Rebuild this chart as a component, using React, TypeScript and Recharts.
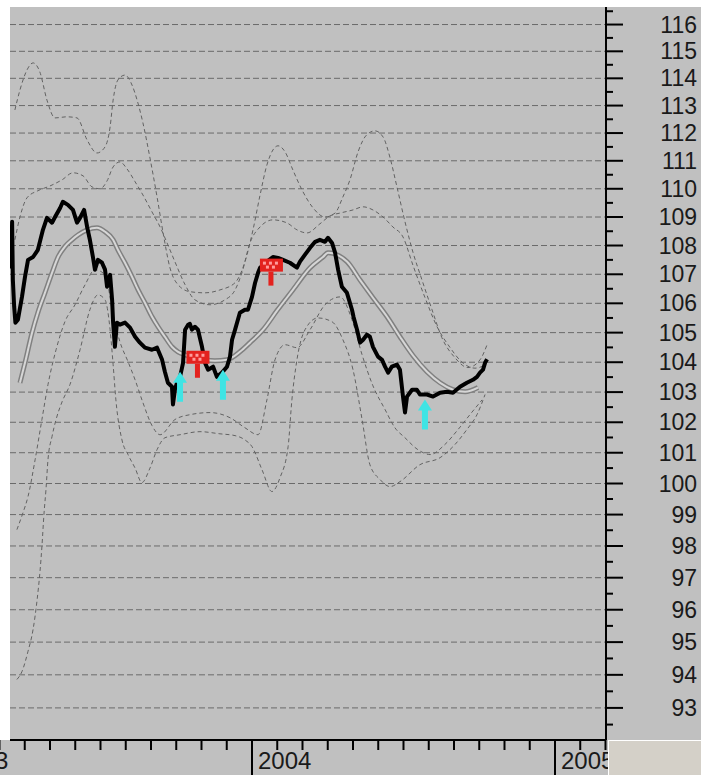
import { ComposedChart, Line, Scatter, XAxis, YAxis, CartesianGrid } from "recharts";

// x = months counted from Jan 2003 (12 = Jan 2004), y = price (log scale)
const price: [number, number][] = [
  [2.45, 107.2], [2.5, 108.83], [2.53, 106.8], [2.58, 105.9], [2.63, 105.34], [2.73, 105.44],
  [2.89, 106.22], [3.01, 106.91], [3.13, 107.5], [3.33, 107.6], [3.52, 107.85], [3.72, 108.55],
  [3.88, 108.97], [4.08, 108.8], [4.2, 109.0], [4.4, 109.32], [4.51, 109.54], [4.71, 109.43],
  [4.91, 109.25], [5.07, 108.8], [5.19, 108.97], [5.35, 109.25], [5.47, 108.65], [5.58, 108.2],
  [5.7, 107.6], [5.78, 107.16], [5.9, 107.5], [6.06, 107.4], [6.18, 107.16], [6.26, 106.57],
  [6.38, 106.98], [6.46, 106.12], [6.5, 105.34], [6.57, 104.52], [6.65, 105.34], [6.77, 105.27],
  [6.97, 105.34], [7.17, 105.17], [7.37, 104.86], [7.56, 104.66], [7.76, 104.49], [8.04, 104.42],
  [8.24, 104.49], [8.44, 104.08], [8.55, 103.68], [8.67, 103.31], [8.83, 103.18], [8.87, 102.59],
  [8.95, 103.1], [9.03, 103.31], [9.15, 103.51], [9.27, 103.98], [9.35, 105.1], [9.47, 105.27],
  [9.54, 105.3], [9.62, 105.1], [9.74, 105.2], [9.86, 105.1], [10.02, 104.52], [10.14, 103.98],
  [10.26, 103.75], [10.46, 103.85], [10.61, 103.51], [10.81, 103.65], [11.01, 103.85], [11.13, 104.19],
  [11.21, 104.76], [11.33, 105.1], [11.52, 105.68], [11.72, 105.78], [11.84, 105.78], [12.0, 106.22],
  [12.12, 106.7], [12.24, 107.05], [12.32, 107.23], [12.59, 107.44], [12.83, 107.6], [13.03, 107.57],
  [13.23, 107.5], [13.5, 107.4], [13.78, 107.23], [13.9, 107.44], [14.1, 107.68], [14.3, 107.92],
  [14.5, 108.13], [14.69, 108.2], [14.89, 108.13], [15.01, 108.27], [15.17, 108.09], [15.29, 107.75],
  [15.41, 107.16], [15.56, 106.57], [15.76, 106.36], [15.96, 105.78], [16.02, 105.54], [16.16, 105.1],
  [16.28, 104.66], [16.4, 104.76], [16.55, 104.93], [16.67, 104.86], [16.79, 104.52], [16.99, 104.19],
  [17.15, 104.08], [17.27, 103.85], [17.39, 103.65], [17.54, 103.85], [17.74, 103.92], [17.86, 103.75],
  [17.98, 102.85], [18.06, 102.32], [18.14, 102.85], [18.34, 103.08], [18.53, 103.08], [18.65, 102.92],
  [18.93, 102.92], [19.17, 102.85], [19.45, 102.98], [19.72, 103.01], [19.96, 102.98], [20.24, 103.18],
  [20.51, 103.31], [20.75, 103.41], [20.91, 103.51], [21.03, 103.65], [21.15, 103.75], [21.23, 103.98],
  [21.31, 104.1],
];

const cycle: [number, number][] = [
  [2.81, 103.31], [3.01, 103.98], [3.29, 105.0], [3.52, 105.68], [3.8, 106.36], [4.08, 107.05],
  [4.32, 107.6], [4.59, 107.96], [4.87, 108.2], [5.11, 108.37], [5.47, 108.55], [5.86, 108.62],
  [6.18, 108.48], [6.5, 108.2], [6.69, 107.85], [6.97, 107.4], [7.25, 106.91], [7.49, 106.46],
  [7.76, 106.02], [8.04, 105.54], [8.28, 105.2], [8.55, 104.86], [8.83, 104.52], [9.07, 104.35],
  [9.35, 104.25], [9.74, 104.15], [10.14, 104.08], [10.53, 104.05], [11.01, 104.08], [11.52, 104.35],
  [11.92, 104.66], [12.44, 105.1], [12.99, 105.75], [13.62, 106.46], [14.3, 107.23], [14.81, 107.6],
  [15.01, 107.75], [15.76, 107.44], [16.28, 106.8], [16.79, 106.19], [17.35, 105.54], [17.86, 104.86],
  [18.38, 104.22], [18.93, 103.68], [19.45, 103.31], [19.96, 103.08], [20.44, 103.01], [20.95, 103.15],
];

const upperOuter: [number, number][] = [
  [2.61, 112.84], [2.81, 113.57], [3.09, 114.31], [3.33, 114.57], [3.6, 114.23], [3.88, 113.2],
  [4.2, 112.55], [4.67, 112.59], [5.07, 112.55], [5.47, 111.75], [5.86, 111.28], [6.18, 111.5],
  [6.38, 112.22], [6.5, 113.2], [6.69, 113.94], [6.97, 114.12], [7.25, 113.75], [7.45, 113.2],
  [7.68, 112.37], [7.96, 111.1], [8.24, 109.71], [8.48, 108.44], [8.75, 107.23], [9.07, 106.64],
  [9.54, 106.4], [10.14, 106.36], [10.73, 106.46], [11.33, 106.71], [11.72, 107.43], [12.04, 108.55],
  [12.32, 109.78], [12.59, 110.85], [12.83, 111.39], [13.03, 111.54], [13.31, 111.32], [13.62, 110.67],
  [13.98, 109.96], [14.42, 109.32], [14.89, 109.0], [15.29, 109.14], [15.6, 109.71], [15.88, 110.32],
  [16.2, 111.32], [16.51, 111.9], [16.87, 112.08], [17.19, 111.86], [17.47, 111.1], [17.74, 110.07],
  [18.06, 108.83], [18.38, 107.75], [18.73, 106.81], [19.13, 105.78], [19.52, 104.83], [20.04, 104.15],
  [20.55, 103.82], [21.03, 104.08], [21.31, 104.59],
];

const upperInner: [number, number][] = [
  [2.61, 108.2], [2.81, 109.0], [3.09, 109.68], [3.52, 109.93], [4.0, 110.1], [4.48, 110.32],
  [4.91, 110.57], [5.31, 110.46], [5.66, 110.07], [5.98, 110.0], [6.26, 110.28], [6.5, 110.78],
  [6.77, 110.96], [7.05, 110.71], [7.37, 110.25], [7.68, 109.78], [8.04, 109.18], [8.36, 108.65],
  [8.67, 108.02], [8.95, 107.43], [9.35, 106.64], [9.74, 106.12], [10.34, 105.95], [10.93, 106.12],
  [11.33, 106.46], [11.6, 107.05], [11.92, 108.09], [12.32, 108.65], [12.83, 108.9], [13.39, 108.79],
  [13.78, 108.55], [14.18, 108.44], [14.69, 108.76], [15.09, 109.04], [15.49, 109.14], [16.0, 109.25],
  [16.4, 109.36], [16.79, 109.25], [17.19, 109.0], [17.58, 108.65], [17.98, 108.3], [18.38, 107.3],
  [18.85, 106.2], [19.33, 105.2], [19.84, 104.5], [20.32, 104.0], [20.83, 103.8], [21.23, 103.9],
];

const lowerOuter: [number, number][] = [
  [2.69, 93.86], [2.89, 94.1], [3.13, 94.72], [3.33, 95.39], [3.49, 96.31], [3.6, 97.16],
  [3.68, 97.98], [3.76, 99.0], [3.84, 99.8], [3.92, 100.77], [4.08, 101.53], [4.24, 102.09],
  [4.48, 102.68], [4.79, 103.25], [5.19, 104.42], [5.58, 105.78], [5.9, 106.29], [6.18, 106.12],
  [6.38, 105.1], [6.5, 103.92], [6.61, 102.74], [6.85, 101.42], [7.09, 100.94], [7.37, 100.5],
  [7.64, 100.03], [7.96, 100.5], [8.24, 101.1], [8.55, 101.49], [9.15, 101.59], [9.94, 101.69],
  [10.73, 101.62], [11.33, 101.56], [11.72, 101.42], [12.0, 101.2], [12.4, 100.44], [12.79, 99.74],
  [13.11, 100.19], [13.43, 101.2], [13.58, 102.74], [13.78, 104.08], [14.1, 105.1], [14.61, 105.5],
  [15.17, 105.37], [15.6, 104.76], [16.0, 103.75], [16.36, 102.09], [16.67, 100.61], [17.07, 100.13],
  [17.47, 99.9], [17.86, 100.06], [18.65, 100.61], [19.45, 100.84], [20.04, 101.27], [20.51, 101.76],
  [20.91, 102.25], [21.23, 102.92],
];

const lowerInner: [number, number][] = [
  [2.69, 98.52], [2.93, 99.06], [3.13, 99.58], [3.41, 100.77], [3.68, 102.09], [3.92, 103.25],
  [4.24, 104.42], [4.59, 105.37], [4.99, 105.95], [5.39, 106.64], [5.78, 107.16], [6.18, 106.98],
  [6.5, 105.61], [6.77, 104.69], [7.09, 104.02], [7.37, 103.41], [7.68, 102.65], [8.04, 101.89],
  [8.36, 101.59], [8.95, 102.09], [9.54, 102.25], [10.34, 102.32], [11.13, 102.15], [11.72, 101.82],
  [12.24, 101.59], [12.59, 102.74], [12.91, 104.08], [13.31, 104.59], [13.78, 104.49], [14.3, 105.1],
  [14.89, 105.95], [15.49, 106.22], [15.96, 105.44], [16.36, 104.25], [16.79, 103.21], [17.27, 102.42],
  [17.66, 101.82], [18.06, 101.49], [18.57, 101.1], [19.05, 100.94], [19.64, 101.27], [20.16, 101.76],
  [20.63, 102.25], [21.11, 102.74],
];

const sellSignals: [number, number][] = [[9.84, 104.15], [12.75, 107.3]];
const buySignals: [number, number][] = [[9.15, 103.68], [10.85, 103.75], [18.85, 102.75]];

const priceTicks = [93, 94, 95, 96, 97, 98, 99, 100, 101, 102, 103, 104, 105, 106, 107, 108, 109, 110, 111, 112, 113, 114, 115, 116];
const halfTicks = [92.5, ...priceTicks.flatMap((p) => [p, p + 0.5])];
const monthTicks = [0, 1, 2, 3, 4, 5, 6, 7, 8, 9, 10, 11, 12, 13, 14, 15, 16, 17, 18, 19, 20, 21, 22, 23, 24, 25, 26];
const yearLabels: Record<number, string> = { 0: "2003", 12: "2004", 24: "2005" };

const rows = (pts: [number, number][]) => pts.map(([m, v]) => ({ m, v }));

const FONT = "'Liberation Sans', Arial, sans-serif";

function RightTick(props: any) {
  const { x, y, payload } = props;
  const v = Number(payload.value);
  const major = Math.abs(v - Math.round(v)) < 0.01;
  return (
    <g>
      <line x1={x} x2={x + (major ? 17 : 7)} y1={y} y2={y} stroke="#000" strokeWidth={2} />
      {major && (
        <text x={x + 91} y={y + 8} textAnchor="end" fontSize={23} fill="#1a1a1a" fontFamily={FONT}>
          {Math.round(v)}
        </text>
      )}
    </g>
  );
}

function BottomTick(props: any) {
  const { x, y, payload } = props;
  const label = yearLabels[Math.round(Number(payload.value))];
  return (
    <g>
      <line x1={x} x2={x} y1={y} y2={y + (label ? 35 : 10)} stroke="#000" strokeWidth={2} />
      {label && (
        <text x={x + 6} y={y + 29} fontSize={24} fill="#1a1a1a" fontFamily={FONT}>
          {label}
        </text>
      )}
    </g>
  );
}

function SellMark(props: any) {
  const { cx, cy } = props;
  return (
    <g>
      <rect x={cx - 11} y={cy - 7} width={23} height={13} fill="#e3221e" />
      <rect x={cx - 8} y={cy - 4} width={3} height={3} fill="#ff9c9c" />
      <rect x={cx - 2} y={cy - 4} width={3} height={3} fill="#ff9c9c" />
      <rect x={cx + 4} y={cy - 4} width={3} height={3} fill="#ff9c9c" />
      <rect x={cx - 5} y={cy} width={3} height={3} fill="#ff9c9c" />
      <rect x={cx + 1} y={cy} width={3} height={3} fill="#ff9c9c" />
      <rect x={cx - 2.5} y={cy + 6} width={5} height={14} fill="#e3221e" />
    </g>
  );
}

function BuyMark(props: any) {
  const { cx, cy } = props;
  const pts = [
    [cx, cy], [cx + 7, cy + 11], [cx + 3, cy + 11], [cx + 3, cy + 30],
    [cx - 3, cy + 30], [cx - 3, cy + 11], [cx - 7, cy + 11],
  ].map((p) => p.join(",")).join(" ");
  return <polygon points={pts} fill="#3fe4e4" />;
}

export default function App() {
  const band = { stroke: "#626262", strokeWidth: 1, strokeDasharray: "4 3", dot: false, activeDot: false, isAnimationActive: false, type: "monotone" as const, dataKey: "v" };
  return (
    <div style={{ position: "absolute", left: 0, top: 0, width: 701, height: 775, background: "#c0c0c0", overflow: "hidden" }}>
      <div style={{ position: "absolute", left: 0, top: 0, width: 701, height: 7, background: "#fff" }} />
      <div style={{ position: "absolute", left: 0, top: 0, width: 10, height: 740, background: "#fff" }} />
      <div style={{ position: "absolute", left: 0, top: 0 }}>
        <ComposedChart width={701} height={775} margin={{ top: 7, right: 0, bottom: 0, left: 10 }}>
          <CartesianGrid horizontal vertical={false} horizontalValues={priceTicks} stroke="#6a6a6a" strokeDasharray="6 3" />
          <XAxis
            type="number"
            dataKey="m"
            domain={[2.416, 26.02]}
            allowDataOverflow
            ticks={monthTicks}
            interval={0}
            height={35}
            tickSize={0}
            tickMargin={0}
            tickLine={false}
            axisLine={{ stroke: "#000", strokeWidth: 2 }}
            tick={<BottomTick />}
          />
          <YAxis
            orientation="right"
            type="number"
            dataKey="v"
            scale="log"
            domain={[92.04, 116.66]}
            allowDataOverflow
            ticks={halfTicks}
            interval={0}
            width={95}
            tickSize={0}
            tickMargin={0}
            tickLine={false}
            axisLine={{ stroke: "#000", strokeWidth: 2 }}
            tick={<RightTick />}
          />
          <Line {...band} data={rows(upperOuter)} />
          <Line {...band} data={rows(upperInner)} />
          <Line {...band} data={rows(lowerOuter)} />
          <Line {...band} data={rows(lowerInner)} />
          <Line data={rows(cycle)} dataKey="v" type="monotone" stroke="#808080" strokeWidth={5} dot={false} activeDot={false} isAnimationActive={false} />
          <Line data={rows(cycle)} dataKey="v" type="monotone" stroke="#d6d6d6" strokeWidth={2} dot={false} activeDot={false} isAnimationActive={false} />
          <Line data={rows(price)} dataKey="v" type="linear" stroke="#000" strokeWidth={4} strokeLinejoin="round" dot={false} activeDot={false} isAnimationActive={false} />
          <Scatter data={rows(sellSignals)} dataKey="v" shape={<SellMark />} isAnimationActive={false} />
          <Scatter data={rows(buySignals)} dataKey="v" shape={<BuyMark />} isAnimationActive={false} />
        </ComposedChart>
      </div>
      <div style={{ position: "absolute", left: 608, top: 740, width: 93, height: 35, background: "#d4d0c8", borderTop: "1px solid #fff", borderLeft: "1px solid #fff", boxSizing: "border-box" }} />
    </div>
  );
}
